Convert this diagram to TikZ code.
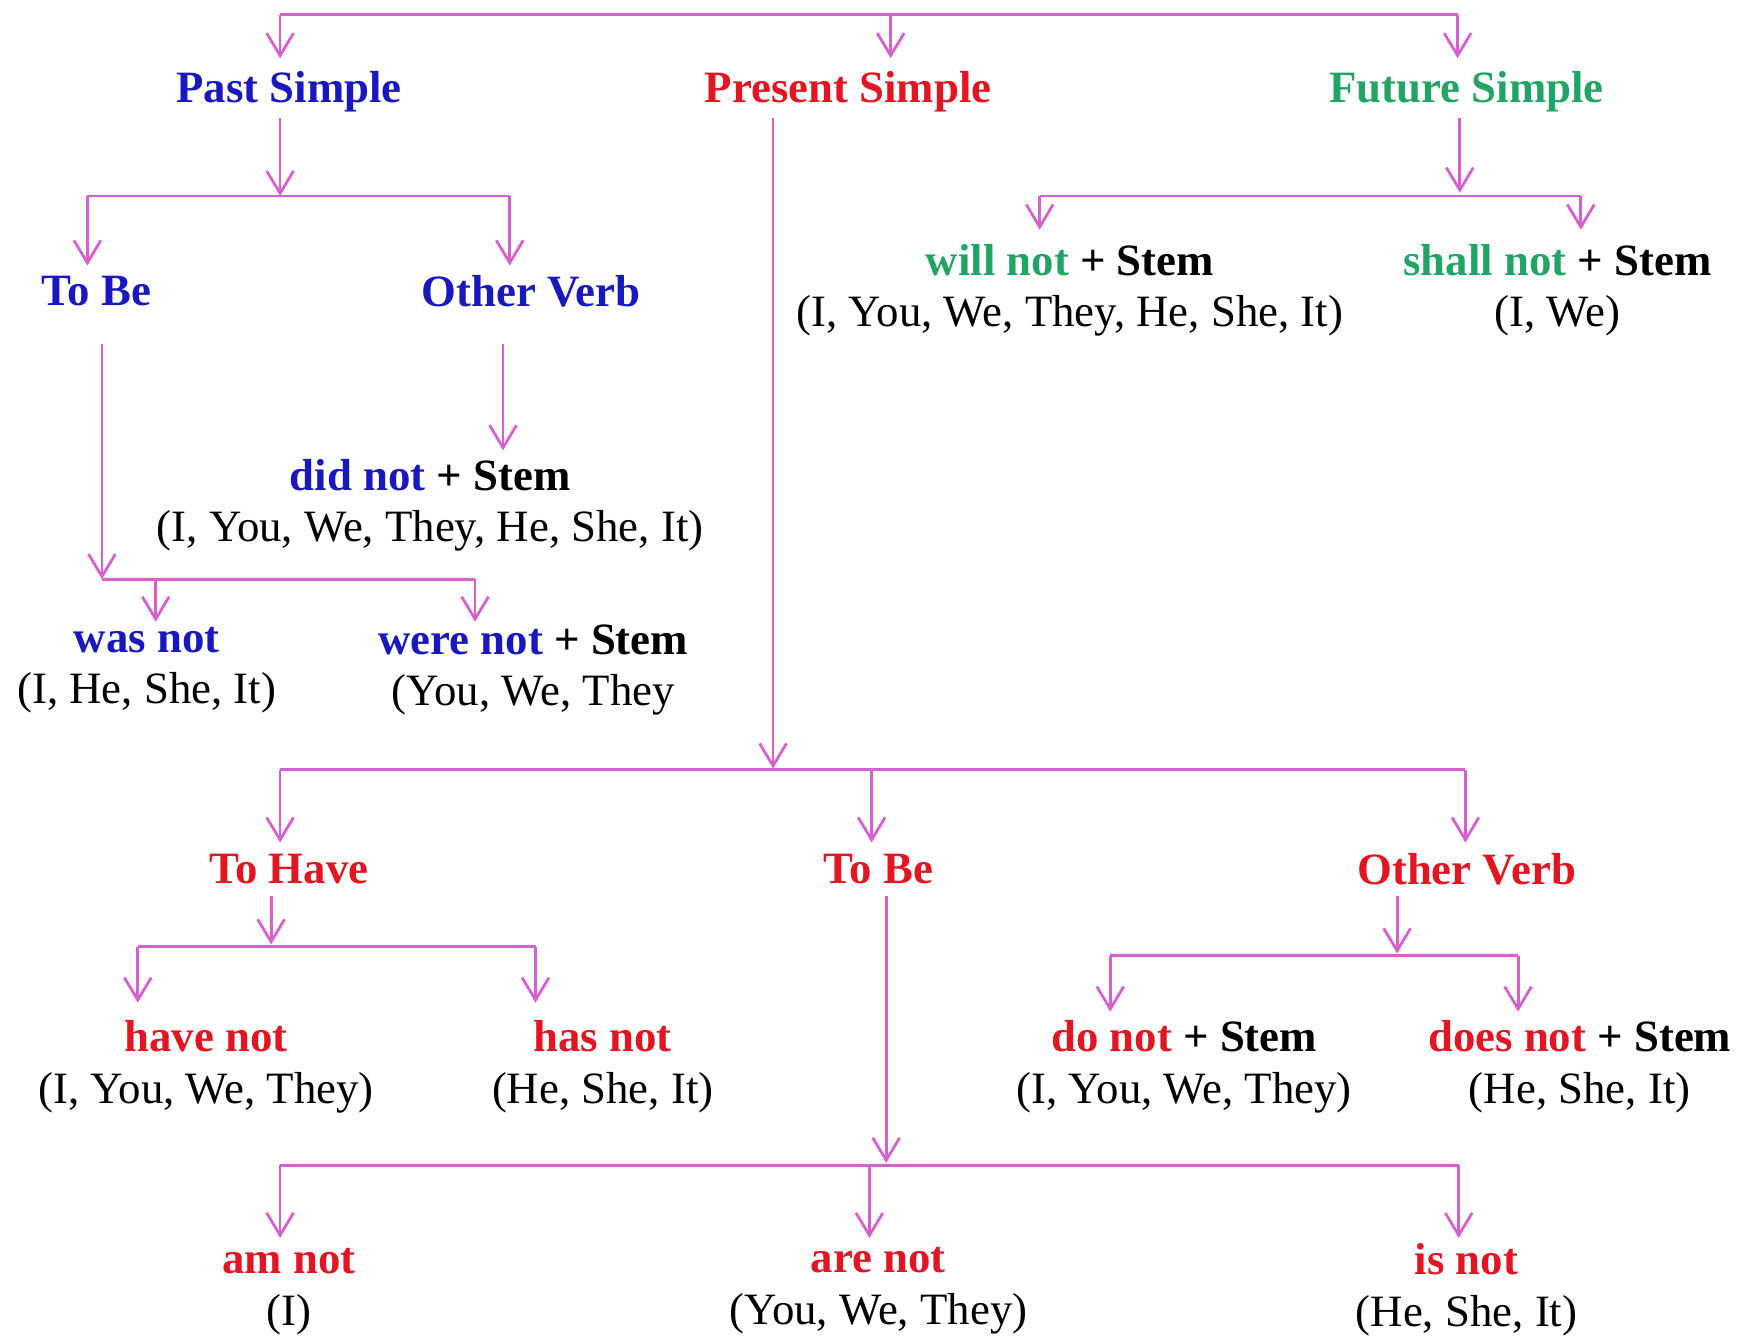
\documentclass[tikz,border=0pt]{standalone}
\usepackage{fontspec}
\setmainfont{Liberation Serif}
\usetikzlibrary{arrows.meta}
\definecolor{pk}{RGB}{214,96,206}
\definecolor{bl}{RGB}{24,24,190}
\definecolor{rd}{RGB}{226,22,34}
\definecolor{gr}{RGB}{34,165,100}
\begin{document}
\begin{tikzpicture}[x=1pt,y=-1pt,
  lbl/.style={inner sep=0pt, align=center, font=\fontsize{40}{46}\selectfont},
  hd/.style={inner sep=0pt, align=center, font=\fontsize{40}{46}\selectfont\bfseries},
  ln/.style={draw=pk, line width=2.5pt},
  ar/.style={ln, -{Straight Barb[length=20pt,width=24pt,line width=2.5pt]}}]
\useasboundingbox (0,0) rectangle (1562,1193);

% ---- level 1
\node[hd,text=bl] (ps)  at (258,82)  {Past Simple};
\node[hd,text=rd] (prs) at (757,82)  {Present Simple};
\node[hd,text=gr] (fs)  at (1309,82) {Future Simple};
\coordinate (t1) at (250,13);
\coordinate (t2) at (795,13);
\coordinate (t3) at (1301,13);
\draw[ln] (t1) -- (t3);
\draw[ar] (t1) -- (250,52);
\draw[ar] (t2) -- (795,52);
\draw[ar] (t3) -- (1301,52);

% ---- past simple
\coordinate (pj) at (250,175);
\coordinate (pl) at (78,175);
\coordinate (pr) at (455,175);
\draw[ar] (250,105) -- (pj);
\draw[ln] (pl) -- (pr);
\draw[ar] (pl) -- (78,237);
\draw[ar] (pr) -- (455,237);
\node[hd,text=bl] (tb1) at (86,260)  {To Be};
\node[hd,text=bl] (ov1) at (474,260) {Other Verb};
\draw[ar] (449,307) -- (449,402);
\node[lbl] (dn) at (384,451) {\textcolor{bl}{\textbf{did not}} \textbf{+ Stem}\\(I, You, We, They, He, She, It)};
\coordinate (bj) at (91,517);
\coordinate (br) at (424,517);
\draw[ar] (91,307) -- (bj);
\draw[ln] (bj) -- (br);
\draw[ar] (139,517) -- (139,555);
\draw[ar] (br) -- (424,555);
\node[lbl] (wn)  at (131,598) {\textcolor{bl}{\textbf{was not}}\\(I, He, She, It)};
\node[lbl] (wrn) at (476,598) {\textcolor{bl}{\textbf{were not}} \textbf{+ Stem}\\(You, We, They};

% ---- present simple
\coordinate (ql) at (250,687);
\coordinate (qm) at (778,687);
\coordinate (qr) at (1308,687);
\draw[ar] (690,105) -- (690,686);
\draw[ln] (ql) -- (qr);
\draw[ar] (ql) -- (250,752);
\draw[ar] (qm) -- (778,752);
\draw[ar] (qr) -- (1308,752);
\node[hd,text=rd] (th)  at (258,776)  {To Have};
\node[hd,text=rd] (tb2) at (784,776)  {To Be};
\node[hd,text=rd] (ov2) at (1309,776) {Other Verb};

% to have
\coordinate (hl) at (123,845);
\coordinate (hr) at (478,845);
\draw[ar] (242,800) -- (242,843);
\draw[ln] (hl) -- (hr);
\draw[ar] (hl) -- (123,895);
\draw[ar] (hr) -- (478,895);
\node[lbl] (hvn) at (184,952) {\textcolor{rd}{\textbf{have not}}\\(I, You, We, They)};
\node[lbl] (hsn) at (538,952) {\textcolor{rd}{\textbf{has not}}\\(He, She, It)};

% to be
\coordinate (el) at (250,1040);
\coordinate (em) at (776,1040);
\coordinate (er) at (1302,1040);
\draw[ar] (791,800) -- (791,1038);
\draw[ln] (el) -- (er);
\draw[ar] (el) -- (250,1105);
\draw[ar] (em) -- (776,1105);
\draw[ar] (er) -- (1302,1105);
\node[lbl] (amn) at (258,1153)  {\textcolor{rd}{\textbf{am not}}\\(I)};
\node[lbl] (arn) at (784,1152)  {\textcolor{rd}{\textbf{are not}}\\(You, We, They)};
\node[lbl] (isn) at (1309,1151) {\textcolor{rd}{\textbf{is not}}\\(He, She, It)};

% other verb
\coordinate (ol) at (991,853);
\coordinate (or) at (1355,853);
\draw[ar] (1247,800) -- (1247,851);
\draw[ln] (ol) -- (or);
\draw[ar] (ol) -- (991,903);
\draw[ar] (or) -- (1355,903);
\node[lbl] (don)  at (1057,952) {\textcolor{rd}{\textbf{do not}} \textbf{+ Stem}\\(I, You, We, They)};
\node[lbl] (dsn)  at (1410,952) {\textcolor{rd}{\textbf{does not}} \textbf{+ Stem}\\(He, She, It)};

% ---- future simple
\coordinate (fl) at (928,175);
\coordinate (fr) at (1411,175);
\draw[ar] (1303,105) -- (1303,172);
\draw[ln] (fl) -- (fr);
\draw[ar] (fl) -- (928,205);
\draw[ar] (fr) -- (1411,205);
\node[lbl] (wln) at (955,259)  {\textcolor{gr}{\textbf{will not}} \textbf{+ Stem}\\(I, You, We, They, He, She, It)};
\node[lbl] (shn) at (1390,259) {\textcolor{gr}{\textbf{shall not}} \textbf{+ Stem}\\(I, We)};
\end{tikzpicture}
\end{document}
